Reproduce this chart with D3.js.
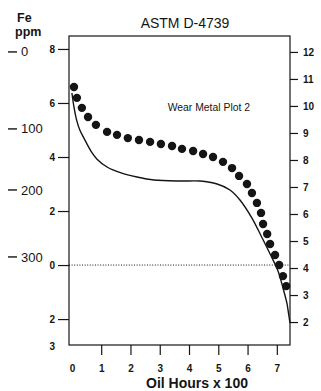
<!DOCTYPE html>
<html>
<head>
<meta charset="utf-8">
<script src="https://cdn.jsdelivr.net/npm/d3@7"></script>
<style>
  body { margin: 0; background: #fff; }
  svg { display: block; font-family: "Liberation Sans", Arial, Helvetica, sans-serif; }
</style>
</head>
<body>
<div id="chart"></div>
<script>
// oil hours (x 100) for the dotted series and its wear metal readings (right axis)
const dotHours = [0.07, 0.17, 0.34, 0.55, 0.82, 1.20, 1.54, 1.91, 2.29, 2.67, 3.04, 3.42, 3.76, 4.14, 4.48,
  4.82, 5.16, 5.47, 5.71, 5.98, 6.15, 6.32, 6.46, 6.53, 6.67, 6.77, 6.94, 7.08, 7.21, 7.32];
const dotValues = [10.70, 10.30, 9.93, 9.59, 9.30, 9.04, 8.93, 8.81, 8.74, 8.67, 8.59, 8.52, 8.41, 8.33, 8.22,
  8.11, 7.93, 7.70, 7.41, 7.11, 6.78, 6.41, 6.04, 5.63, 5.26, 4.89, 4.48, 4.11, 3.70, 3.33];

// solid reference curve
const curveHours = [0, 0.07, 0.17, 0.27, 0.41, 0.65, 0.85, 1.20, 1.68, 2.22, 2.80, 3.69, 4.38, 4.96,
  5.40, 5.74, 6.15, 6.50, 6.77, 7.04, 7.21, 7.35, 7.45];
const curveValues = [10.48, 9.96, 9.44, 9.11, 8.81, 8.33, 8.04, 7.74, 7.52, 7.37, 7.26, 7.22, 7.22, 7.11,
  6.89, 6.52, 5.85, 5.11, 4.52, 3.89, 3.26, 2.67, 1.96];

const xTicks = [0, 1, 2, 3, 4, 5, 6, 7];
const leftTicks = [8, 6, 4, 2, 0, -2, -3];
const rightTicks = [2, 3, 4, 5, 6, 7, 8, 9, 10, 11, 12];
const feTicks = [0, 100, 200, 300];
const feOnLeftAxis = [7.89, 5.04, 2.78, 0.30]; // where each Fe label sits against the left scale

const W = 321, H = 391;
const margin = { top: 36, right: 31, bottom: 46, left: 69 };
const w = W - margin.left - margin.right;
const h = H - margin.top - margin.bottom;

const svg = d3.select('#chart').append('svg')
  .attr('width', W).attr('height', H);

const g = svg.append('g').attr('transform', `translate(${margin.left},${margin.top})`);

const x = d3.scaleLinear().domain([-0.1, 7.45]).range([0, w]);
const yLeft = d3.scaleLinear().domain([-2.96, 8.48]).range([h, 0]);
const yRight = d3.scaleLinear().domain([1.15, 12.59]).range([h, 0]);
const feScale = d3.scaleLinear().domain(feTicks).range(feOnLeftAxis);

const ink = '#151515';

// frame
g.append('rect')
  .attr('width', w).attr('height', h)
  .attr('fill', 'none').attr('stroke', ink).attr('stroke-width', 1.2);

// left axis
const leftAxis = g.append('g')
  .call(d3.axisLeft(yLeft).tickValues(leftTicks).tickSize(11).tickPadding(3)
    .tickFormat(d => Math.abs(d)));
leftAxis.select('.domain').remove();
leftAxis.selectAll('.tick').filter(d => d === -3).select('line').remove();

// right axis
const rightAxis = g.append('g').attr('transform', `translate(${w},0)`)
  .call(d3.axisRight(yRight).tickValues(rightTicks).tickSize(8).tickPadding(5));
rightAxis.select('.domain').remove();

// bottom axis
const bottomAxis = g.append('g').attr('transform', `translate(0,${h})`)
  .call(d3.axisBottom(x).tickValues(xTicks).tickSize(10).tickPadding(10));
bottomAxis.select('.domain').remove();
bottomAxis.selectAll('.tick').filter(d => d === 0).select('line').remove();

g.selectAll('.tick line').attr('stroke', ink).attr('stroke-width', 1.2);
g.selectAll('.tick text').attr('fill', ink).style('font-size', '10px').style('font-weight', 'bold');

// dotted zero line
g.append('line')
  .attr('x1', 0).attr('x2', w)
  .attr('y1', yLeft(0)).attr('y2', yLeft(0))
  .attr('stroke', ink).attr('stroke-width', 1)
  .attr('stroke-dasharray', '1,1.6');

// solid curve
const line = d3.line()
  .x((d, i) => x(curveHours[i]))
  .y(d => yRight(d))
  .curve(d3.curveCatmullRom);

g.append('path')
  .datum(curveValues)
  .attr('d', line)
  .attr('fill', 'none').attr('stroke', ink).attr('stroke-width', 1.4);

// dots
g.selectAll('.dot')
  .data(dotValues)
  .enter().append('circle')
  .attr('class', 'dot')
  .attr('cx', (d, i) => x(dotHours[i]))
  .attr('cy', d => yRight(d))
  .attr('r', 4.2)
  .attr('fill', ink);

// Fe ppm scale labels
svg.append('text').attr('x', 17).attr('y', 22).text('Fe')
  .attr('fill', ink).style('font-size', '12.5px').style('font-weight', 'bold');
svg.append('text').attr('x', 15).attr('y', 36).text('ppm')
  .attr('fill', ink).style('font-size', '12.5px').style('font-weight', 'bold');

const fe = g.selectAll('.fe')
  .data(feTicks)
  .enter().append('g')
  .attr('class', 'fe')
  .attr('transform', d => `translate(${-margin.left},${yLeft(feScale(d))})`);

fe.append('line')
  .attr('x1', 8).attr('x2', 17)
  .attr('stroke', ink).attr('stroke-width', 1.4);

fe.append('text')
  .attr('x', 21).attr('dy', '0.35em')
  .attr('fill', ink)
  .style('font-size', '13px')
  .text(d => d);

// titles
svg.append('text')
  .attr('x', 185).attr('y', 28)
  .attr('text-anchor', 'middle')
  .attr('fill', ink)
  .style('font-size', '14px')
  .text('ASTM D-4739');

g.append('text')
  .attr('x', x(3.27)).attr('y', yRight(9.8))
  .attr('fill', ink)
  .style('font-size', '10.4px')
  .text('Wear Metal Plot 2');

svg.append('text')
  .attr('x', 197).attr('y', 388)
  .attr('text-anchor', 'middle')
  .attr('fill', ink)
  .style('font-size', '14px').style('font-weight', 'bold')
  .text('Oil Hours x 100');
</script>
</body>
</html>
